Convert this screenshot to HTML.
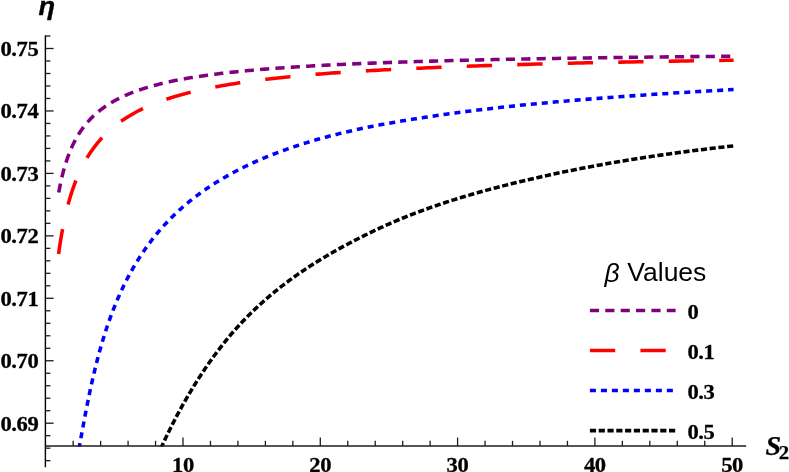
<!DOCTYPE html>
<html><head><meta charset="utf-8"><title>plot</title>
<style>html,body{margin:0;padding:0;background:#fff}svg{display:block}text{font-family:"Liberation Serif",serif;font-weight:bold;fill:#000}</style></head><body>
<svg width="789" height="472" viewBox="0 0 789 472">
<rect width="789" height="472" fill="#fff"/>
<defs><clipPath id="c"><rect x="40" y="30" width="700" height="416.6"/></clipPath></defs>
<g clip-path="url(#c)" fill="none" stroke-width="3.55">
<path d="M58.75,192.59 L58.88,191.86 L59.01,191.14 L59.14,190.42 L59.28,189.70 L59.41,188.98 L59.55,188.26 L59.69,187.55 L59.83,186.84 L59.97,186.13 L60.11,185.42 L60.26,184.72 L60.40,184.01 L60.55,183.31 L60.70,182.62 L60.85,181.92 L61.00,181.23 L61.15,180.54 L61.31,179.85 L61.46,179.16 L61.62,178.47 L61.78,177.79 L61.94,177.11 L62.10,176.43 L62.26,175.76 L62.43,175.08 L62.60,174.41 L62.77,173.74 L62.94,173.08 L63.11,172.41 L63.28,171.75 L63.46,171.09 L63.64,170.43 L63.81,169.78 L64.00,169.12 L64.18,168.47 L64.36,167.82 L64.55,167.17 L64.74,166.53 L64.93,165.88 L65.12,165.24 L65.31,164.61 L65.51,163.97 L65.71,163.34 L65.91,162.70 L66.11,162.07 L66.31,161.45 L66.52,160.82 L66.73,160.20 L66.94,159.58 L67.15,158.96 L67.36,158.34 L67.58,157.72 L67.80,157.11 L68.02,156.50 L68.24,155.89 L68.47,155.29 L68.69,154.68 L68.92,154.08 L69.15,153.48 L69.39,152.88 L69.63,152.29 L69.86,151.70 L70.11,151.10 L70.35,150.52 L70.60,149.93 L70.84,149.34 L71.10,148.76 L71.35,148.18 L71.61,147.60 L71.86,147.03 L72.13,146.45 L72.39,145.88 L72.66,145.31 L72.92,144.74 L73.20,144.18 L73.47,143.61 L73.75,143.05 L74.03,142.49 L74.31,141.93 L74.60,141.38 L74.89,140.83 L75.18,140.27 L75.47,139.73 L75.77,139.18 L76.07,138.63 L76.37,138.09 L76.68,137.55 L76.99,137.01 L77.30,136.48 L77.62,135.94 L77.94,135.41 L78.26,134.88 L78.58,134.35 L78.91,133.83 L79.24,133.30 L79.58,132.78 L79.92,132.26 L80.26,131.74 L80.60,131.23 L80.95,130.71 L81.30,130.20 L81.66,129.69 L82.02,129.19 L82.38,128.68 L82.75,128.18 L83.12,127.68 L83.49,127.18 L83.87,126.68 L84.25,126.18 L84.63,125.69 L85.02,125.20 L85.42,124.71 L85.81,124.23 L86.21,123.74 L86.62,123.26 L87.03,122.78 L87.44,122.30 L87.85,121.82 L88.28,121.35 L88.70,120.87 L89.13,120.40 L89.56,119.94 L90.00,119.47 L90.44,119.00 L90.89,118.54 L91.34,118.08 L91.80,117.62 L92.26,117.17 L92.72,116.71 L93.19,116.26 L93.67,115.81 L94.15,115.36 L94.63,114.91 L95.12,114.47 L95.61,114.03 L96.11,113.59 L96.61,113.15 L97.12,112.71 L97.64,112.28 L98.16,111.84 L98.68,111.41 L99.21,110.99 L99.74,110.56 L100.28,110.13 L100.83,109.71 L101.38,109.29 L101.93,108.87 L102.50,108.46 L103.06,108.04 L103.64,107.63 L104.21,107.22 L104.80,106.81 L105.39,106.40 L105.98,106.00 L106.59,105.60 L107.20,105.19 L107.81,104.80 L108.43,104.40 L109.06,104.00 L109.69,103.61 L110.33,103.22 L110.97,102.83 L111.62,102.44 L112.28,102.06 L112.95,101.67 L113.62,101.29 L114.30,100.91 L114.98,100.54 L115.67,100.16 L116.37,99.79 L117.08,99.41 L117.79,99.05 L118.51,98.68 L119.24,98.31 L119.97,97.95 L120.72,97.59 L121.46,97.23 L122.22,96.87 L122.99,96.51 L123.76,96.16 L124.54,95.80 L125.32,95.45 L126.12,95.10 L126.92,94.76 L127.73,94.41 L128.55,94.07 L129.38,93.73 L130.22,93.39 L131.06,93.05 L131.91,92.72 L132.77,92.38 L133.64,92.05 L134.52,91.72 L135.41,91.39 L136.30,91.07 L137.21,90.74 L138.12,90.42 L139.05,90.10 L139.98,89.78 L140.92,89.47 L141.87,89.15 L142.83,88.84 L143.80,88.53 L144.78,88.22 L145.77,87.91 L146.77,87.61 L147.78,87.30 L148.80,87.00 L149.83,86.70 L150.87,86.40 L151.92,86.11 L152.98,85.81 L154.05,85.52 L155.13,85.23 L156.22,84.94 L157.33,84.66 L158.44,84.37 L159.57,84.09 L160.71,83.81 L161.85,83.53 L163.01,83.25 L164.19,82.98 L165.37,82.70 L166.56,82.43 L167.77,82.16 L168.99,81.89 L170.22,81.62 L171.47,81.36 L172.72,81.10 L173.99,80.83 L175.27,80.57 L176.57,80.32 L177.87,80.06 L179.19,79.81 L180.53,79.55 L181.87,79.30 L183.23,79.05 L184.60,78.80 L185.99,78.56 L187.39,78.31 L188.81,78.07 L190.24,77.83 L191.68,77.59 L193.14,77.35 L194.61,77.12 L196.10,76.88 L197.60,76.65 L199.12,76.42 L200.65,76.19 L202.20,75.96 L203.76,75.74 L205.34,75.51 L206.93,75.29 L208.54,75.07 L210.17,74.85 L211.81,74.63 L213.47,74.41 L215.15,74.20 L216.84,73.98 L218.55,73.77 L220.27,73.56 L222.02,73.35 L223.78,73.15 L225.56,72.94 L227.35,72.74 L229.17,72.53 L231.00,72.33 L232.85,72.13 L234.72,71.93 L236.60,71.74 L238.51,71.54 L240.44,71.35 L242.38,71.15 L244.35,70.96 L246.33,70.77 L248.33,70.59 L250.36,70.40 L252.40,70.21 L254.46,70.03 L256.55,69.85 L258.65,69.67 L260.78,69.49 L262.93,69.31 L265.10,69.13 L267.29,68.96 L269.50,68.78 L271.74,68.61 L273.99,68.44 L276.27,68.27 L278.58,68.10 L280.90,67.93 L283.25,67.77 L285.62,67.60 L288.02,67.44 L290.44,67.28 L292.88,67.11 L295.35,66.96 L297.85,66.80 L300.36,66.64 L302.91,66.48 L305.48,66.33 L308.07,66.18 L310.69,66.03 L313.34,65.87 L316.01,65.73 L318.71,65.58 L321.44,65.43 L324.19,65.28 L326.97,65.14 L329.78,65.00 L332.62,64.85 L335.48,64.71 L338.38,64.57 L341.30,64.44 L344.25,64.30 L347.23,64.16 L350.24,64.03 L353.28,63.89 L356.36,63.76 L359.46,63.63 L362.59,63.50 L365.76,63.37 L368.95,63.24 L372.18,63.11 L375.44,62.99 L378.73,62.86 L382.06,62.74 L385.42,62.61 L388.81,62.49 L392.24,62.37 L395.70,62.25 L399.19,62.13 L402.72,62.02 L406.29,61.90 L409.89,61.78 L413.53,61.67 L417.20,61.56 L420.91,61.44 L424.66,61.33 L428.44,61.22 L432.26,61.11 L436.12,61.00 L440.02,60.90 L443.96,60.79 L447.94,60.68 L451.96,60.58 L456.01,60.48 L460.11,60.37 L464.25,60.27 L468.43,60.17 L472.65,60.07 L476.91,59.97 L481.22,59.87 L485.57,59.78 L489.96,59.68 L494.40,59.58 L498.88,59.49 L503.41,59.40 L507.98,59.30 L512.59,59.21 L517.26,59.12 L521.97,59.03 L526.72,58.94 L531.53,58.85 L536.38,58.76 L541.28,58.68 L546.23,58.59 L551.22,58.50 L556.27,58.42 L561.37,58.34 L566.52,58.25 L571.72,58.17 L576.98,58.09 L582.28,58.01 L587.64,57.93 L593.05,57.85 L598.52,57.77 L604.04,57.69 L609.62,57.62 L615.25,57.54 L620.93,57.46 L626.68,57.39 L632.48,57.31 L638.34,57.24 L644.26,57.17 L650.24,57.10 L656.27,57.02 L662.37,56.95 L668.53,56.88 L674.75,56.81 L681.03,56.74 L687.38,56.68 L693.78,56.61 L700.26,56.54 L706.79,56.47 L713.40,56.41 L720.06,56.34 L726.80,56.28 L733.60,56.21" stroke="#800080" stroke-dasharray="9.17 6.206" stroke-dashoffset="15.29"/>
<path d="M58.60,254.05 L58.73,253.10 L58.86,252.15 L58.99,251.20 L59.12,250.25 L59.26,249.30 L59.39,248.36 L59.53,247.42 L59.67,246.48 L59.81,245.54 L59.95,244.61 L60.09,243.68 L60.24,242.74 L60.38,241.82 L60.53,240.89 L60.68,239.97 L60.83,239.05 L60.98,238.13 L61.13,237.21 L61.29,236.29 L61.45,235.38 L61.60,234.47 L61.76,233.56 L61.92,232.66 L62.09,231.75 L62.25,230.85 L62.42,229.95 L62.58,229.05 L62.75,228.16 L62.92,227.27 L63.10,226.38 L63.27,225.49 L63.45,224.60 L63.62,223.72 L63.80,222.84 L63.98,221.96 L64.17,221.08 L64.35,220.20 L64.54,219.33 L64.73,218.46 L64.92,217.59 L65.11,216.73 L65.31,215.86 L65.50,215.00 L65.70,214.14 L65.90,213.29 L66.10,212.43 L66.31,211.58 L66.51,210.73 L66.72,209.88 L66.93,209.04 L67.14,208.20 L67.36,207.36 L67.58,206.52 L67.80,205.68 L68.02,204.85 L68.24,204.02 L68.47,203.19 L68.69,202.36 L68.92,201.54 L69.16,200.71 L69.39,199.89 L69.63,199.08 L69.87,198.26 L70.11,197.45 L70.36,196.64 L70.60,195.83 L70.85,195.02 L71.10,194.22 L71.36,193.42 L71.62,192.62 L71.88,191.82 L72.14,191.03 L72.40,190.24 L72.67,189.45 L72.94,188.66 L73.21,187.88 L73.49,187.09 L73.77,186.31 L74.05,185.54 L74.33,184.76 L74.62,183.99 L74.91,183.22 L75.20,182.45 L75.50,181.68 L75.79,180.92 L76.10,180.16 L76.40,179.40 L76.71,178.65 L77.02,177.89 L77.33,177.14 L77.65,176.39 L77.97,175.65 L78.29,174.90 L78.62,174.16 L78.95,173.42 L79.28,172.68 L79.62,171.95 L79.96,171.22 L80.30,170.49 L80.65,169.76 L81.00,169.04 L81.35,168.32 L81.71,167.60 L82.07,166.88 L82.43,166.16 L82.80,165.45 L83.17,164.74 L83.55,164.03 L83.93,163.33 L84.31,162.63 L84.70,161.93 L85.09,161.23 L85.48,160.53 L85.88,159.84 L86.28,159.15 L86.69,158.46 L87.10,157.78 L87.51,157.10 L87.93,156.41 L88.35,155.74 L88.78,155.06 L89.21,154.39 L89.65,153.72 L90.09,153.05 L90.53,152.39 L90.98,151.72 L91.44,151.06 L91.89,150.41 L92.36,149.75 L92.82,149.10 L93.30,148.45 L93.77,147.80 L94.26,147.15 L94.74,146.51 L95.23,145.87 L95.73,145.23 L96.23,144.60 L96.74,143.97 L97.25,143.34 L97.76,142.71 L98.28,142.09 L98.81,141.46 L99.34,140.84 L99.88,140.23 L100.42,139.61 L100.97,139.00 L101.53,138.39 L102.08,137.78 L102.65,137.18 L103.22,136.58 L103.80,135.98 L104.38,135.38 L104.96,134.79 L105.56,134.20 L106.16,133.61 L106.76,133.02 L107.38,132.44 L107.99,131.86 L108.62,131.28 L109.25,130.70 L109.88,130.13 L110.53,129.56 L111.18,128.99 L111.83,128.43 L112.49,127.87 L113.16,127.31 L113.84,126.75 L114.52,126.19 L115.21,125.64 L115.91,125.09 L116.61,124.54 L117.32,124.00 L118.04,123.46 L118.76,122.92 L119.49,122.38 L120.23,121.85 L120.98,121.32 L121.73,120.79 L122.49,120.27 L123.26,119.74 L124.04,119.22 L124.83,118.70 L125.62,118.19 L126.42,117.68 L127.23,117.17 L128.04,116.66 L128.87,116.16 L129.70,115.65 L130.54,115.16 L131.39,114.66 L132.25,114.17 L133.12,113.68 L133.99,113.19 L134.88,112.70 L135.77,112.22 L136.67,111.74 L137.58,111.26 L138.50,110.79 L139.43,110.32 L140.37,109.85 L141.32,109.38 L142.28,108.92 L143.25,108.46 L144.22,108.00 L145.21,107.54 L146.21,107.09 L147.21,106.64 L148.23,106.19 L149.26,105.75 L150.29,105.31 L151.34,104.87 L152.40,104.43 L153.47,104.00 L154.55,103.56 L155.64,103.14 L156.74,102.71 L157.85,102.29 L158.97,101.87 L160.11,101.45 L161.25,101.03 L162.41,100.62 L163.58,100.21 L164.76,99.80 L165.95,99.40 L167.16,98.99 L168.37,98.59 L169.60,98.20 L170.84,97.80 L172.10,97.41 L173.36,97.02 L174.64,96.63 L175.93,96.25 L177.24,95.86 L178.56,95.48 L179.89,95.11 L181.23,94.73 L182.59,94.36 L183.96,93.99 L185.34,93.62 L186.74,93.25 L188.15,92.89 L189.58,92.53 L191.02,92.17 L192.48,91.82 L193.95,91.46 L195.43,91.11 L196.93,90.76 L198.45,90.42 L199.98,90.07 L201.52,89.73 L203.08,89.39 L204.66,89.06 L206.25,88.72 L207.86,88.39 L209.48,88.06 L211.12,87.73 L212.78,87.41 L214.45,87.08 L216.14,86.76 L217.85,86.45 L219.58,86.13 L221.32,85.81 L223.08,85.50 L224.85,85.19 L226.65,84.89 L228.46,84.58 L230.29,84.28 L232.14,83.98 L234.01,83.68 L235.89,83.38 L237.80,83.09 L239.72,82.80 L241.66,82.51 L243.63,82.22 L245.61,81.93 L247.61,81.65 L249.63,81.37 L251.68,81.09 L253.74,80.81 L255.82,80.54 L257.93,80.26 L260.05,79.99 L262.20,79.72 L264.37,79.46 L266.56,79.19 L268.77,78.93 L271.01,78.67 L273.26,78.41 L275.54,78.15 L277.84,77.90 L280.17,77.65 L282.52,77.40 L284.89,77.15 L287.28,76.90 L289.70,76.66 L292.15,76.41 L294.62,76.17 L297.11,75.93 L299.63,75.70 L302.17,75.47 L304.74,75.24 L307.33,75.01 L309.95,74.79 L312.60,74.57 L315.27,74.35 L317.97,74.13 L320.70,73.92 L323.46,73.71 L326.24,73.50 L329.05,73.29 L331.89,73.08 L334.75,72.87 L337.65,72.67 L340.57,72.47 L343.52,72.27 L346.51,72.07 L349.52,71.87 L352.56,71.68 L355.64,71.49 L358.74,71.29 L361.88,71.11 L365.04,70.92 L368.24,70.73 L371.47,70.55 L374.73,70.37 L378.03,70.19 L381.36,70.01 L384.72,69.83 L388.12,69.65 L391.55,69.48 L395.01,69.31 L398.51,69.14 L402.04,68.97 L405.61,68.80 L409.22,68.64 L412.86,68.47 L416.53,68.31 L420.25,68.15 L424.00,67.98 L427.79,67.82 L431.62,67.65 L435.48,67.49 L439.38,67.32 L443.33,67.16 L447.31,67.00 L451.33,66.85 L455.40,66.69 L459.50,66.53 L463.64,66.38 L467.83,66.23 L472.06,66.08 L476.33,65.93 L480.64,65.78 L485.00,65.63 L489.40,65.49 L493.84,65.34 L498.33,65.20 L502.86,65.06 L507.44,64.92 L512.07,64.78 L516.74,64.64 L521.46,64.50 L526.22,64.37 L531.03,64.23 L535.89,64.10 L540.80,63.97 L545.76,63.84 L550.77,63.71 L555.83,63.58 L560.94,63.45 L566.10,63.33 L571.31,63.20 L576.58,63.08 L581.89,62.96 L587.26,62.84 L592.69,62.72 L598.17,62.60 L603.70,62.48 L609.29,62.36 L614.93,62.25 L620.63,62.13 L626.39,62.02 L632.21,61.90 L638.08,61.79 L644.02,61.68 L650.01,61.57 L656.06,61.46 L662.18,61.36 L668.35,61.25 L674.59,61.14 L680.88,61.04 L687.25,60.93 L693.67,60.83 L700.16,60.73 L706.72,60.63 L713.34,60.53 L720.02,60.43 L726.78,60.33 L733.60,60.23" stroke="#ff0000" stroke-dasharray="25.3 25.2" stroke-dashoffset="0.09"/>
<path d="M78.50,451.35 L78.75,449.99 L79.00,448.62 L79.26,447.23 L79.52,445.83 L79.78,444.42 L80.04,442.99 L80.30,441.55 L80.56,440.10 L80.83,438.64 L81.10,437.16 L81.37,435.68 L81.64,434.18 L81.92,432.68 L82.20,431.17 L82.48,429.65 L82.76,428.12 L83.04,426.58 L83.33,425.03 L83.61,423.48 L83.91,421.92 L84.20,420.36 L84.49,418.79 L84.79,417.22 L85.09,415.64 L85.39,414.06 L85.69,412.47 L86.00,410.88 L86.31,409.29 L86.62,407.70 L86.93,406.10 L87.25,404.51 L87.57,402.91 L87.89,401.31 L88.21,399.72 L88.54,398.12 L88.86,396.53 L89.19,394.93 L89.53,393.34 L89.86,391.75 L90.20,390.16 L90.54,388.58 L90.89,386.99 L91.23,385.41 L91.58,383.83 L91.93,382.25 L92.28,380.68 L92.64,379.11 L93.00,377.54 L93.36,375.97 L93.73,374.41 L94.10,372.85 L94.47,371.30 L94.84,369.75 L95.22,368.20 L95.59,366.66 L95.98,365.12 L96.36,363.59 L96.75,362.06 L97.14,360.53 L97.53,359.01 L97.93,357.50 L98.33,355.99 L98.73,354.49 L99.14,352.99 L99.55,351.50 L99.96,350.01 L100.38,348.53 L100.80,347.06 L101.22,345.59 L101.64,344.13 L102.07,342.67 L102.50,341.22 L102.94,339.78 L103.38,338.34 L103.82,336.91 L104.26,335.48 L104.71,334.06 L105.16,332.64 L105.62,331.23 L106.08,329.83 L106.54,328.43 L107.00,327.04 L107.47,325.65 L107.95,324.27 L108.42,322.90 L108.90,321.53 L109.39,320.16 L109.88,318.80 L110.37,317.45 L110.86,316.10 L111.36,314.76 L111.86,313.42 L112.37,312.09 L112.88,310.76 L113.39,309.44 L113.91,308.13 L114.43,306.81 L114.96,305.51 L115.49,304.21 L116.03,302.91 L116.56,301.62 L117.11,300.34 L117.65,299.06 L118.20,297.78 L118.76,296.51 L119.32,295.25 L119.88,293.99 L120.45,292.73 L121.02,291.49 L121.60,290.24 L122.18,289.00 L122.77,287.76 L123.36,286.53 L123.95,285.31 L124.55,284.09 L125.15,282.87 L125.76,281.66 L126.37,280.45 L126.99,279.25 L127.61,278.05 L128.24,276.86 L128.87,275.67 L129.51,274.49 L130.15,273.31 L130.80,272.14 L131.45,270.97 L132.11,269.80 L132.77,268.64 L133.44,267.48 L134.11,266.33 L134.78,265.18 L135.47,264.04 L136.15,262.90 L136.85,261.76 L137.54,260.63 L138.25,259.51 L138.96,258.38 L139.67,257.27 L140.39,256.15 L141.11,255.04 L141.84,253.94 L142.58,252.84 L143.32,251.74 L144.07,250.65 L144.82,249.56 L145.58,248.47 L146.35,247.40 L147.12,246.32 L147.89,245.25 L148.68,244.18 L149.46,243.12 L150.26,242.06 L151.06,241.00 L151.87,239.95 L152.68,238.91 L153.50,237.86 L154.32,236.83 L155.15,235.79 L155.99,234.76 L156.84,233.74 L157.69,232.71 L158.55,231.70 L159.41,230.68 L160.28,229.67 L161.16,228.67 L162.04,227.66 L162.93,226.67 L163.83,225.67 L164.73,224.68 L165.65,223.70 L166.56,222.72 L167.49,221.74 L168.42,220.76 L169.36,219.80 L170.31,218.83 L171.26,217.87 L172.22,216.91 L173.19,215.96 L174.17,215.00 L175.15,214.06 L176.14,213.12 L177.14,212.18 L178.15,211.24 L179.16,210.31 L180.18,209.39 L181.21,208.46 L182.25,207.54 L183.30,206.63 L184.35,205.72 L185.41,204.81 L186.48,203.90 L187.56,203.00 L188.64,202.11 L189.74,201.22 L190.84,200.33 L191.95,199.44 L193.07,198.56 L194.20,197.68 L195.34,196.81 L196.48,195.94 L197.64,195.07 L198.80,194.21 L199.97,193.35 L201.16,192.49 L202.35,191.64 L203.54,190.79 L204.75,189.95 L205.97,189.11 L207.20,188.27 L208.43,187.44 L209.68,186.61 L210.94,185.78 L212.20,184.96 L213.48,184.14 L214.76,183.32 L216.05,182.51 L217.36,181.70 L218.67,180.90 L220.00,180.10 L221.33,179.30 L222.68,178.51 L224.03,177.72 L225.40,176.93 L226.77,176.14 L228.16,175.36 L229.56,174.59 L230.96,173.81 L232.38,173.04 L233.81,172.28 L235.25,171.51 L236.70,170.75 L238.17,170.00 L239.64,169.25 L241.12,168.50 L242.62,167.75 L244.13,167.01 L245.65,166.27 L247.18,165.53 L248.72,164.80 L250.27,164.07 L251.84,163.35 L253.42,162.63 L255.01,161.91 L256.61,161.19 L258.23,160.48 L259.85,159.77 L261.49,159.07 L263.15,158.37 L264.81,157.67 L266.49,156.98 L268.18,156.29 L269.88,155.60 L271.60,154.92 L273.33,154.24 L275.07,153.56 L276.83,152.89 L278.60,152.22 L280.38,151.55 L282.18,150.89 L283.99,150.23 L285.81,149.57 L287.65,148.92 L289.50,148.27 L291.37,147.62 L293.25,146.98 L295.15,146.34 L297.05,145.71 L298.98,145.08 L300.92,144.45 L302.87,143.82 L304.84,143.20 L306.83,142.59 L308.82,141.97 L310.84,141.36 L312.87,140.75 L314.91,140.15 L316.98,139.55 L319.05,138.95 L321.15,138.37 L323.25,137.79 L325.38,137.22 L327.52,136.66 L329.68,136.09 L331.85,135.53 L334.04,134.97 L336.25,134.42 L338.48,133.87 L340.72,133.33 L342.98,132.78 L345.25,132.25 L347.55,131.71 L349.86,131.18 L352.19,130.65 L354.53,130.13 L356.90,129.61 L359.28,129.09 L361.68,128.58 L364.10,128.07 L366.54,127.56 L368.99,127.06 L371.47,126.56 L373.96,126.07 L376.48,125.58 L379.01,125.09 L381.56,124.61 L384.13,124.13 L386.72,123.65 L389.33,123.18 L391.96,122.71 L394.62,122.24 L397.29,121.78 L399.98,121.32 L402.69,120.87 L405.42,120.41 L408.18,119.96 L410.95,119.52 L413.75,119.08 L416.57,118.64 L419.41,118.20 L422.27,117.75 L425.15,117.30 L428.06,116.85 L430.99,116.41 L433.93,115.97 L436.91,115.53 L439.90,115.09 L442.92,114.66 L445.96,114.23 L449.03,113.80 L452.11,113.38 L455.23,112.95 L458.36,112.53 L461.52,112.12 L464.70,111.71 L467.91,111.29 L471.15,110.89 L474.40,110.48 L477.68,110.08 L480.99,109.68 L484.32,109.28 L487.68,108.89 L491.07,108.49 L494.48,108.10 L497.91,107.72 L501.37,107.33 L504.86,106.95 L508.38,106.57 L511.92,106.19 L515.49,105.82 L519.09,105.44 L522.71,105.07 L526.36,104.71 L530.04,104.34 L533.75,103.98 L537.49,103.61 L541.25,103.26 L545.05,102.90 L548.87,102.54 L552.72,102.19 L556.61,101.84 L560.52,101.49 L564.46,101.15 L568.43,100.80 L572.43,100.46 L576.47,100.12 L580.53,99.78 L584.62,99.44 L588.75,99.11 L592.91,98.78 L597.10,98.45 L601.32,98.12 L605.57,97.79 L609.86,97.46 L614.18,97.14 L618.53,96.82 L622.92,96.50 L627.34,96.18 L631.79,95.86 L636.28,95.55 L640.80,95.24 L645.36,94.92 L649.95,94.61 L654.57,94.31 L659.23,94.00 L663.93,93.69 L668.67,93.39 L673.44,93.09 L678.24,92.79 L683.08,92.49 L687.96,92.19 L692.88,91.89 L697.84,91.59 L702.83,91.30 L707.86,91.01 L712.93,90.72 L718.04,90.42 L723.19,90.14 L728.37,89.85 L733.60,89.56" stroke="#0000ff" stroke-dasharray="6.05 4.94" stroke-dashoffset="8.7"/>
<path d="M160.50,449.21 L161.02,448.07 L161.53,446.93 L162.06,445.79 L162.58,444.65 L163.10,443.51 L163.63,442.38 L164.16,441.24 L164.70,440.11 L165.23,438.97 L165.77,437.85 L166.31,436.72 L166.85,435.59 L167.40,434.46 L167.94,433.34 L168.49,432.21 L169.05,431.09 L169.60,429.96 L170.16,428.84 L170.72,427.72 L171.28,426.60 L171.84,425.48 L172.41,424.36 L172.98,423.24 L173.55,422.13 L174.13,421.01 L174.71,419.90 L175.29,418.78 L175.87,417.67 L176.45,416.56 L177.04,415.45 L177.63,414.34 L178.23,413.23 L178.82,412.12 L179.42,411.02 L180.02,409.91 L180.63,408.81 L181.23,407.70 L181.84,406.60 L182.46,405.50 L183.07,404.40 L183.69,403.30 L184.31,402.21 L184.93,401.11 L185.56,400.02 L186.19,398.92 L186.82,397.83 L187.45,396.74 L188.09,395.65 L188.73,394.56 L189.38,393.47 L190.02,392.39 L190.67,391.30 L191.32,390.22 L191.98,389.14 L192.64,388.06 L193.30,386.98 L193.96,385.90 L194.63,384.82 L195.30,383.75 L195.97,382.67 L196.65,381.60 L197.32,380.53 L198.01,379.46 L198.69,378.39 L199.38,377.32 L200.07,376.26 L200.76,375.19 L201.46,374.13 L202.16,373.07 L202.87,372.00 L203.57,370.94 L204.28,369.89 L205.00,368.83 L205.71,367.77 L206.43,366.72 L207.16,365.67 L207.88,364.62 L208.61,363.57 L209.34,362.53 L210.08,361.48 L210.82,360.44 L211.56,359.40 L212.31,358.37 L213.06,357.33 L213.81,356.30 L214.57,355.27 L215.33,354.24 L216.09,353.21 L216.85,352.19 L217.62,351.16 L218.40,350.14 L219.17,349.13 L219.95,348.11 L220.74,347.10 L221.53,346.09 L222.32,345.08 L223.11,344.08 L223.91,343.07 L224.71,342.08 L225.51,341.08 L226.32,340.08 L227.14,339.09 L227.95,338.10 L228.77,337.12 L229.59,336.14 L230.42,335.15 L231.25,334.18 L232.09,333.20 L232.93,332.23 L233.77,331.26 L234.61,330.30 L235.46,329.34 L236.32,328.38 L237.17,327.42 L238.03,326.47 L238.90,325.52 L239.77,324.58 L240.64,323.63 L241.52,322.69 L242.40,321.76 L243.28,320.83 L244.17,319.90 L245.06,318.97 L245.96,318.05 L246.86,317.13 L247.77,316.21 L248.68,315.30 L249.59,314.39 L250.51,313.48 L251.43,312.58 L252.35,311.68 L253.28,310.78 L254.21,309.89 L255.15,308.99 L256.09,308.11 L257.04,307.22 L257.99,306.34 L258.95,305.46 L259.90,304.58 L260.87,303.70 L261.84,302.83 L262.81,301.96 L263.78,301.09 L264.77,300.22 L265.75,299.35 L266.74,298.49 L267.73,297.63 L268.73,296.78 L269.74,295.93 L270.74,295.07 L271.76,294.23 L272.77,293.38 L273.79,292.54 L274.82,291.70 L275.85,290.86 L276.88,290.03 L277.92,289.19 L278.97,288.36 L280.02,287.53 L281.07,286.71 L282.13,285.89 L283.19,285.07 L284.26,284.25 L285.33,283.43 L286.41,282.62 L287.50,281.81 L288.58,281.00 L289.68,280.19 L290.77,279.39 L291.87,278.59 L292.98,277.79 L294.09,276.99 L295.21,276.20 L296.33,275.40 L297.46,274.61 L298.59,273.82 L299.73,273.04 L300.87,272.25 L302.02,271.47 L303.17,270.69 L304.33,269.91 L305.49,269.14 L306.66,268.36 L307.84,267.59 L309.01,266.82 L310.20,266.05 L311.39,265.28 L312.58,264.52 L313.78,263.75 L314.99,262.99 L316.20,262.23 L317.42,261.47 L318.64,260.72 L319.87,259.96 L321.10,259.21 L322.34,258.46 L323.58,257.71 L324.83,256.96 L326.09,256.22 L327.35,255.47 L328.62,254.73 L329.89,253.99 L331.17,253.25 L332.45,252.51 L333.74,251.77 L335.04,251.04 L336.34,250.31 L337.64,249.57 L338.96,248.84 L340.28,248.11 L341.60,247.38 L342.93,246.66 L344.27,245.93 L345.61,245.21 L346.96,244.48 L348.31,243.76 L349.68,243.04 L351.04,242.32 L352.42,241.61 L353.79,240.89 L355.18,240.17 L356.57,239.46 L357.97,238.74 L359.38,238.03 L360.79,237.32 L362.20,236.61 L363.63,235.90 L365.06,235.19 L366.49,234.48 L367.94,233.78 L369.38,233.07 L370.84,232.37 L372.30,231.67 L373.77,230.97 L375.25,230.27 L376.73,229.57 L378.22,228.87 L379.71,228.18 L381.22,227.48 L382.72,226.79 L384.24,226.10 L385.76,225.42 L387.29,224.73 L388.83,224.05 L390.37,223.37 L391.92,222.69 L393.48,222.01 L395.04,221.34 L396.61,220.67 L398.19,220.00 L399.78,219.33 L401.37,218.67 L402.97,218.01 L404.58,217.35 L406.19,216.70 L407.81,216.05 L409.44,215.40 L411.08,214.76 L412.72,214.11 L414.37,213.48 L416.03,212.84 L417.69,212.21 L419.37,211.58 L421.05,210.96 L422.74,210.33 L424.43,209.71 L426.13,209.10 L427.85,208.48 L429.56,207.87 L431.29,207.27 L433.02,206.66 L434.77,206.06 L436.52,205.46 L438.27,204.86 L440.04,204.27 L441.81,203.68 L443.59,203.09 L445.38,202.50 L447.18,201.91 L448.99,201.33 L450.80,200.75 L452.62,200.17 L454.45,199.60 L456.29,199.03 L458.14,198.45 L459.99,197.89 L461.86,197.32 L463.73,196.76 L465.61,196.19 L467.50,195.63 L469.39,195.08 L471.30,194.52 L473.21,193.97 L475.14,193.42 L477.07,192.87 L479.01,192.32 L480.96,191.77 L482.91,191.23 L484.88,190.69 L486.85,190.15 L488.84,189.61 L490.83,189.08 L492.83,188.54 L494.84,188.01 L496.86,187.48 L498.89,186.95 L500.93,186.42 L502.98,185.90 L505.04,185.38 L507.10,184.85 L509.18,184.33 L511.26,183.82 L513.36,183.30 L515.46,182.78 L517.57,182.27 L519.69,181.76 L521.83,181.25 L523.97,180.74 L526.12,180.23 L528.28,179.73 L530.45,179.22 L532.63,178.72 L534.82,178.22 L537.02,177.72 L539.23,177.22 L541.45,176.73 L543.68,176.23 L545.92,175.74 L548.17,175.25 L550.43,174.76 L552.70,174.27 L554.98,173.78 L557.27,173.30 L559.57,172.82 L561.88,172.34 L564.20,171.86 L566.53,171.38 L568.87,170.91 L571.23,170.43 L573.59,169.96 L575.97,169.49 L578.35,169.02 L580.75,168.56 L583.15,168.09 L585.57,167.63 L588.00,167.17 L590.44,166.71 L592.89,166.25 L595.35,165.80 L597.82,165.35 L600.30,164.90 L602.80,164.45 L605.30,164.00 L607.82,163.56 L610.35,163.12 L612.89,162.68 L615.44,162.24 L618.00,161.80 L620.57,161.37 L623.16,160.93 L625.76,160.50 L628.36,160.08 L630.99,159.65 L633.62,159.23 L636.26,158.81 L638.92,158.39 L641.59,157.97 L644.27,157.56 L646.96,157.15 L649.66,156.74 L652.38,156.33 L655.11,155.92 L657.85,155.52 L660.60,155.12 L663.37,154.72 L666.14,154.32 L668.93,153.93 L671.74,153.54 L674.55,153.15 L677.38,152.76 L680.22,152.38 L683.08,152.00 L685.94,151.62 L688.82,151.24 L691.71,150.87 L694.62,150.50 L697.54,150.13 L700.47,149.76 L703.41,149.39 L706.37,149.03 L709.34,148.67 L712.33,148.32 L715.33,147.96 L718.34,147.61 L721.36,147.26 L724.40,146.92 L727.45,146.57 L730.52,146.23 L733.60,145.89" stroke="#000000" stroke-dasharray="6.17 2.62" stroke-dashoffset="8.04"/>
</g>
<g stroke="#1c1c1c" stroke-width="1.3" fill="none">
<line x1="45.4" y1="35.3" x2="45.4" y2="467.3" stroke="#000" stroke-width="1.4"/>
<line x1="44.9" y1="446.0" x2="746.2" y2="446.0"/>
<line x1="45.4" y1="36.01" x2="50.4" y2="36.01"/>
<line x1="45.4" y1="48.50" x2="53.599999999999994" y2="48.50"/>
<line x1="45.4" y1="60.99" x2="50.4" y2="60.99"/>
<line x1="45.4" y1="73.48" x2="50.4" y2="73.48"/>
<line x1="45.4" y1="85.97" x2="50.4" y2="85.97"/>
<line x1="45.4" y1="98.46" x2="50.4" y2="98.46"/>
<line x1="45.4" y1="110.95" x2="53.599999999999994" y2="110.95"/>
<line x1="45.4" y1="123.44" x2="50.4" y2="123.44"/>
<line x1="45.4" y1="135.93" x2="50.4" y2="135.93"/>
<line x1="45.4" y1="148.42" x2="50.4" y2="148.42"/>
<line x1="45.4" y1="160.91" x2="50.4" y2="160.91"/>
<line x1="45.4" y1="173.40" x2="53.599999999999994" y2="173.40"/>
<line x1="45.4" y1="185.89" x2="50.4" y2="185.89"/>
<line x1="45.4" y1="198.38" x2="50.4" y2="198.38"/>
<line x1="45.4" y1="210.87" x2="50.4" y2="210.87"/>
<line x1="45.4" y1="223.36" x2="50.4" y2="223.36"/>
<line x1="45.4" y1="235.85" x2="53.599999999999994" y2="235.85"/>
<line x1="45.4" y1="248.34" x2="50.4" y2="248.34"/>
<line x1="45.4" y1="260.83" x2="50.4" y2="260.83"/>
<line x1="45.4" y1="273.32" x2="50.4" y2="273.32"/>
<line x1="45.4" y1="285.81" x2="50.4" y2="285.81"/>
<line x1="45.4" y1="298.30" x2="53.599999999999994" y2="298.30"/>
<line x1="45.4" y1="310.79" x2="50.4" y2="310.79"/>
<line x1="45.4" y1="323.28" x2="50.4" y2="323.28"/>
<line x1="45.4" y1="335.77" x2="50.4" y2="335.77"/>
<line x1="45.4" y1="348.26" x2="50.4" y2="348.26"/>
<line x1="45.4" y1="360.75" x2="53.599999999999994" y2="360.75"/>
<line x1="45.4" y1="373.24" x2="50.4" y2="373.24"/>
<line x1="45.4" y1="385.73" x2="50.4" y2="385.73"/>
<line x1="45.4" y1="398.22" x2="50.4" y2="398.22"/>
<line x1="45.4" y1="410.71" x2="50.4" y2="410.71"/>
<line x1="45.4" y1="423.20" x2="53.599999999999994" y2="423.20"/>
<line x1="45.4" y1="435.69" x2="50.4" y2="435.69"/>
<line x1="45.4" y1="448.18" x2="50.4" y2="448.18"/>
<line x1="45.4" y1="460.67" x2="50.4" y2="460.67"/>
<line x1="73.16" y1="446.0" x2="73.16" y2="440.8"/>
<line x1="100.62" y1="446.0" x2="100.62" y2="440.8"/>
<line x1="128.08" y1="446.0" x2="128.08" y2="440.8"/>
<line x1="155.54" y1="446.0" x2="155.54" y2="440.8"/>
<line x1="183.00" y1="446.0" x2="183.00" y2="437.6"/>
<line x1="210.46" y1="446.0" x2="210.46" y2="440.8"/>
<line x1="237.92" y1="446.0" x2="237.92" y2="440.8"/>
<line x1="265.38" y1="446.0" x2="265.38" y2="440.8"/>
<line x1="292.84" y1="446.0" x2="292.84" y2="440.8"/>
<line x1="320.30" y1="446.0" x2="320.30" y2="437.6"/>
<line x1="347.76" y1="446.0" x2="347.76" y2="440.8"/>
<line x1="375.22" y1="446.0" x2="375.22" y2="440.8"/>
<line x1="402.68" y1="446.0" x2="402.68" y2="440.8"/>
<line x1="430.14" y1="446.0" x2="430.14" y2="440.8"/>
<line x1="457.60" y1="446.0" x2="457.60" y2="437.6"/>
<line x1="485.06" y1="446.0" x2="485.06" y2="440.8"/>
<line x1="512.52" y1="446.0" x2="512.52" y2="440.8"/>
<line x1="539.98" y1="446.0" x2="539.98" y2="440.8"/>
<line x1="567.44" y1="446.0" x2="567.44" y2="440.8"/>
<line x1="594.90" y1="446.0" x2="594.90" y2="437.6"/>
<line x1="622.36" y1="446.0" x2="622.36" y2="440.8"/>
<line x1="649.82" y1="446.0" x2="649.82" y2="440.8"/>
<line x1="677.28" y1="446.0" x2="677.28" y2="440.8"/>
<line x1="704.74" y1="446.0" x2="704.74" y2="440.8"/>
<line x1="732.20" y1="446.0" x2="732.20" y2="437.6"/>
</g>
<g opacity="0.999">
<text transform="translate(0.4 55.8) scale(1.12 1)" font-size="20.2" letter-spacing="-0.35" stroke="#000" stroke-width="0.3">0.75</text>
<text transform="translate(0.4 118.25) scale(1.12 1)" font-size="20.2" letter-spacing="-0.35" stroke="#000" stroke-width="0.3">0.74</text>
<text transform="translate(0.4 180.7) scale(1.12 1)" font-size="20.2" letter-spacing="-0.35" stroke="#000" stroke-width="0.3">0.73</text>
<text transform="translate(0.4 243.15) scale(1.12 1)" font-size="20.2" letter-spacing="-0.35" stroke="#000" stroke-width="0.3">0.72</text>
<text transform="translate(0.4 305.6) scale(1.12 1)" font-size="20.2" letter-spacing="-0.35" stroke="#000" stroke-width="0.3">0.71</text>
<text transform="translate(0.4 368.05) scale(1.12 1)" font-size="20.2" letter-spacing="-0.35" stroke="#000" stroke-width="0.3">0.70</text>
<text transform="translate(0.4 430.5) scale(1.12 1)" font-size="20.2" letter-spacing="-0.35" stroke="#000" stroke-width="0.3">0.69</text>
<text transform="translate(172.0 472.0) scale(1.12 1)" font-size="20.2" letter-spacing="-0.35" stroke="#000" stroke-width="0.3">10</text>
<text transform="translate(309.3 472.0) scale(1.12 1)" font-size="20.2" letter-spacing="-0.35" stroke="#000" stroke-width="0.3">20</text>
<text transform="translate(446.6 472.0) scale(1.12 1)" font-size="20.2" letter-spacing="-0.35" stroke="#000" stroke-width="0.3">30</text>
<text transform="translate(583.9 472.0) scale(1.12 1)" font-size="20.2" letter-spacing="-0.35" stroke="#000" stroke-width="0.3">40</text>
<text transform="translate(721.2 472.0) scale(1.12 1)" font-size="20.2" letter-spacing="-0.35" stroke="#000" stroke-width="0.3">50</text>
<text x="38.6" y="14.9" font-style="italic" font-weight="bold" font-size="25.2" textLength="16.6" lengthAdjust="spacingAndGlyphs" stroke="#000" stroke-width="0.35" style="font-family:'Liberation Sans',sans-serif">η</text>
<text x="765.5" y="454.6" font-style="italic" font-size="28.1" stroke="#000" stroke-width="0.25">S</text>
<text x="778.7" y="459" font-size="19.1" textLength="10.4" lengthAdjust="spacingAndGlyphs" stroke="#000" stroke-width="0.25">2</text>
<text x="604.4" y="281.5" font-size="26.4" font-style="italic" style="font-family:'Liberation Sans',sans-serif;font-weight:normal">β</text>
<text x="627.3" y="281.4" font-size="26.5" style="font-family:'Liberation Sans',sans-serif;font-weight:normal">Values</text>
<line x1="589.9" y1="310.5" x2="675.6" y2="310.5" stroke="#800080" stroke-width="3.55" stroke-dasharray="9.17 6.206"/>
<text transform="translate(687.4 318.6) scale(1.12 1)" font-size="20.2" letter-spacing="-0.35" stroke="#000" stroke-width="0.3">0</text>
<line x1="589.9" y1="350.55" x2="675.6" y2="350.55" stroke="#ff0000" stroke-width="3.55" stroke-dasharray="25.3 25.2"/>
<text transform="translate(687.4 358.65) scale(1.12 1)" font-size="20.2" letter-spacing="-0.35" stroke="#000" stroke-width="0.3">0.1</text>
<line x1="589.9" y1="390.55" x2="675.6" y2="390.55" stroke="#0000ff" stroke-width="3.55" stroke-dasharray="6.05 4.94"/>
<text transform="translate(687.4 398.65) scale(1.12 1)" font-size="20.2" letter-spacing="-0.35" stroke="#000" stroke-width="0.3">0.3</text>
<line x1="589.9" y1="430.6" x2="675.6" y2="430.6" stroke="#000000" stroke-width="3.55" stroke-dasharray="6.17 2.62"/>
<text transform="translate(687.4 438.7) scale(1.12 1)" font-size="20.2" letter-spacing="-0.35" stroke="#000" stroke-width="0.3">0.5</text>
</g>
</svg></body></html>
